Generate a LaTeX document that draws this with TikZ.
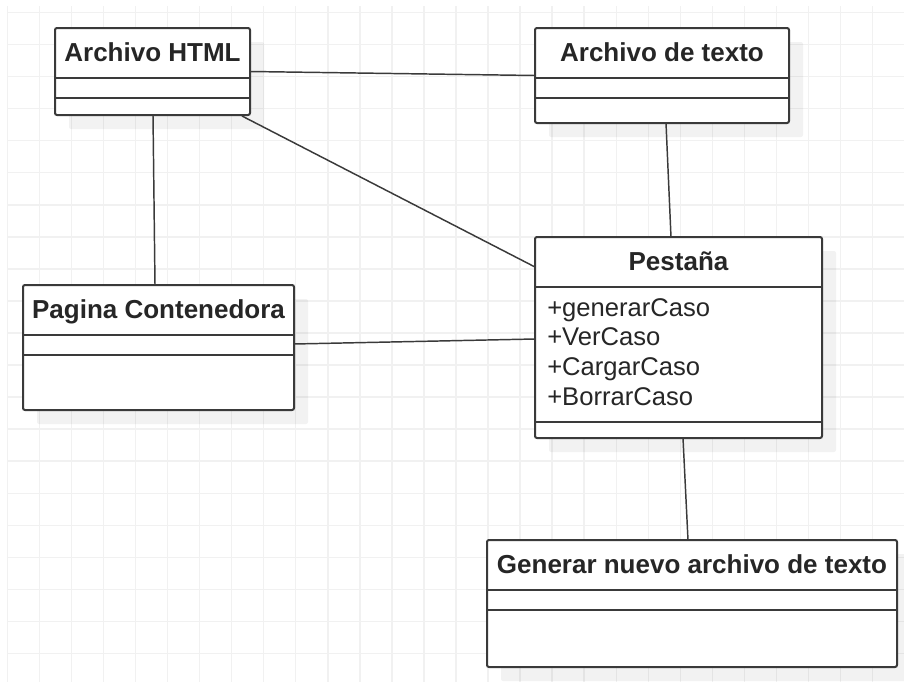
\documentclass[tikz,border=0pt]{standalone}
\usepackage{fontspec}
\setmainfont{Liberation Sans}
\usetikzlibrary{calc,shadows}
\definecolor{gridc}{HTML}{F1F1F1}
\definecolor{strokec}{HTML}{3A3A3A}
\definecolor{textc}{HTML}{262626}
\tikzset{
  gridl/.style={draw=gridc, line width=1.1pt},
  cls/.style={draw=strokec, line width=1.5pt, fill=white, rounded corners=1.5pt,
    inner sep=0pt, outer sep=0pt, anchor=north west,
    general shadow={fill=black, opacity=0.05, shadow xshift=10.5pt, shadow yshift=-10.5pt}},
  sep/.style={draw=strokec, line width=1.5pt},
  title/.style={anchor=base, text=textc, inner sep=0pt, font=\bfseries\fontsize{19.5}{23}\selectfont},
  member/.style={anchor=base west, text=textc, inner sep=0pt, font=\fontsize{19.2}{22}\selectfont},
  conn/.style={draw=strokec, line width=1.1pt}
}
\begin{document}
\begin{tikzpicture}[x=0.75pt,y=-0.75pt]
\fill[white] (0,0) rectangle (904,682);
\useasboundingbox (0,0) rectangle (904,682);
% grid
\foreach \i in {0,...,27} \draw[gridl] ({7.3+32.05*\i},6) -- ({7.3+32.05*\i},682);
\foreach \j in {0,...,20} \draw[gridl] (7,{12.5+32.05*\j}) -- (904,{12.5+32.05*\j});

% boxes
\node[cls, minimum width={195*0.75pt}, minimum height={87*0.75pt}] (html) at (55,28) {};
\node[cls, minimum width={254*0.75pt}, minimum height={95*0.75pt}] (texto) at (535,28) {};
\node[cls, minimum width={271*0.75pt}, minimum height={125*0.75pt}] (pag) at (23,285) {};
\node[cls, minimum width={287*0.75pt}, minimum height={201*0.75pt}] (pest) at (535,237) {};
\node[cls, minimum width={410*0.75pt}, minimum height={127*0.75pt}] (gen) at (487,540) {};

% compartments
\foreach \b in {html,texto,pag,gen}{
  \draw[sep] ($(\b.north west)+(0,50)$) -- ($(\b.north east)+(0,50)$);
  \draw[sep] ($(\b.north west)+(0,70)$) -- ($(\b.north east)+(0,70)$);
}
\draw[sep] ($(pest.north west)+(0,50)$) -- ($(pest.north east)+(0,50)$);
\draw[sep] ($(pest.north west)+(0,185)$) -- ($(pest.north east)+(0,185)$);

% titles
\node[title] (thtml) at ($(html.north)+(0,33)$) {Archivo HTML};
\node[title] (ttexto) at ($(texto.north)+(0,33)$) {Archivo de texto};
\node[title] (tpag) at ($(pag.north)+(0,33)$) {Pagina Contenedora};
\node[title] (tpest) at ($(pest.north)+(0,33)$) {Pestaña};
\node[title] (tgen) at ($(gen.north)+(0,33)$) {Generar nuevo archivo de texto};

% members
\node[member] (m1) at ($(pest.north west)+(12,79)$) {+generarCaso};
\node[member] (m2) at ($(pest.north west)+(12,108.7)$) {+VerCaso};
\node[member] (m3) at ($(pest.north west)+(12,138.4)$) {+CargarCaso};
\node[member] (m4) at ($(pest.north west)+(12,168)$) {+BorrarCaso};

% connectors
\draw[conn] (html.east) -- (texto.west);
\draw[conn] ($(html.south west)+(98,0)$) -- ($(pag.north west)+(132,0)$);
\draw[conn] ($(html.south east)+(-8,1)$) -- ($(pest.north west)+(0,30)$);
\draw[conn] ($(texto.south west)+(131,0)$) -- ($(pest.north west)+(136,0)$);
\draw[conn] ($(pag.north east)+(0,59)$) -- ($(pest.north west)+(0,102)$);
\draw[conn] ($(pest.south west)+(148,0)$) -- ($(gen.north west)+(201,0)$);
\end{tikzpicture}
\end{document}
